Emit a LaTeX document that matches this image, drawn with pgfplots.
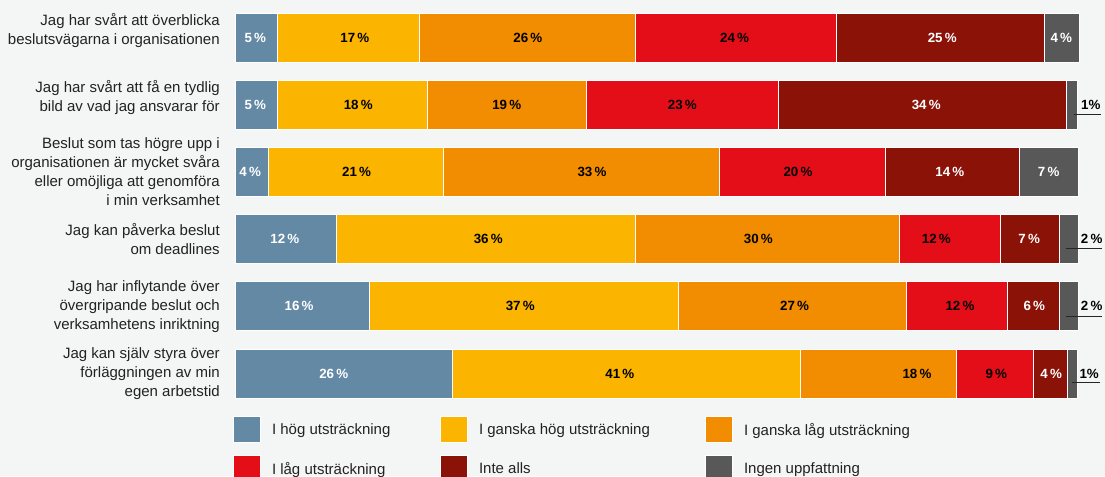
\documentclass[border=0pt]{standalone}
\usepackage{fontspec}
\setmainfont{Liberation Sans}
\usepackage{pgfplots}
\usepackage{pgfplotstable}
\pgfplotsset{compat=1.18}

\definecolor{bgcol}{HTML}{F4F6F5}
\definecolor{cblue}{HTML}{6489A5}
\definecolor{cyellow}{HTML}{FBB500}
\definecolor{corange}{HTML}{F28C00}
\definecolor{cred}{HTML}{E30E18}
\definecolor{cdark}{HTML}{8A1207}
\definecolor{cgray}{HTML}{575857}
\definecolor{labcol}{HTML}{222222}

% segment widths (percent of full bar), read from the picture
\pgfplotstableread{
y c1 c2 c3 c4 c5 c6
5 4.98 16.86 25.64 23.73 24.68 4.11
4 4.98 17.86 18.76 22.78 34.17 1.30
3 3.97 20.79 32.67 19.70 15.83 6.98
2 11.97 35.50 31.28 11.93 6.98 2.29
1 15.88 36.65 27.06 11.99 6.13 2.24
0 25.79 41.23 18.46 9.09 4.04 1.23
}\bars

\pgfplotstableread{
x y lab
2.4 5 5
83.8 5 25
97.9 5 4
2.4 4 5
81.9 4 34
1.8 3 4
84.7 3 14
96.4 3 7
5.9 2 12
94.1 2 7
7.6 1 16
94.7 1 6
11.7 0 26
96.7 0 4
}\whitelabs

\pgfplotstableread{
x y lab
14.2 5 17
34.7 5 26
59.2 5 24
14.6 4 18
32.2 4 19
53.0 4 23
14.4 3 21
42.3 3 33
66.7 3 20
30.0 2 36
62.0 2 30
83.1 2 12
33.8 1 37
66.3 1 27
85.9 1 12
45.6 0 41
80.8 0 18
90.2 0 9
}\blacklabs

\pgfplotstableread{
x y lab
101.4 4 1
101.2 0 1
}\outone

\pgfplotstableread{
x y lab
101.5 2 2
101.5 1 2
}\outtwo

\pgfplotsset{
  base/.style={
    width=633pt, height=302.4pt, scale only axis,
    xmin=0, xmax=100, ymin=-0.5, ymax=5.5,
    clip=false,
    axis line style={draw=none},
    tick style={draw=none},
    xtick=\empty,
    at={(176.25pt,-2.925pt)}, anchor=north west,
  },
  legsq/.style={legend image code/.code={\fill[##1] (0pt,-9.25pt) rectangle (20.25pt,10.25pt);}},
  pctlab/.style={draw=none, mark=none, nodes near coords={\pgfplotspointmeta\,\%},
    point meta=explicit symbolic,
    every node near coord/.append style={anchor=center, inner sep=0pt, font=\fontsize{10}{12}\selectfont\bfseries, text=#1}},
}

\begin{document}
\begin{tikzpicture}
\fill[bgcol] (0,0) rectangle (828.75pt,-357pt);
\useasboundingbox (0,0) rectangle (828.75pt,-357pt);
\clip (0,0) rectangle (828.75pt,-357pt);

\begin{axis}[base,
  xbar stacked, bar width=36.75pt,
  ytick={0,...,5},
  yticklabels={
    {Jag kan själv styra över\\förläggningen av min\\egen arbetstid},
    {Jag har inflytande över\\övergripande beslut och\\verksamhetens inriktning},
    {Jag kan påverka beslut\\om deadlines},
    {Beslut som tas högre upp i\\organisationen är mycket svåra\\eller omöjliga att genomföra\\i min verksamhet},
    {Jag har svårt att få en tydlig\\bild av vad jag ansvarar för\\[-1.25pt]\mbox{}},
    {Jag har svårt att överblicka\\beslutsvägarna i organisationen\\[-1.25pt]\mbox{}}},
  yticklabel style={align=right, inner sep=0pt, xshift=-11.25pt,
    font=\fontsize{11.25}{14.25}\selectfont, text=labcol},
  legend columns=3,
  legend cell align=left,
  legend style={at={(axis description cs:-0.00237,-0.0221)}, anchor=north west,
    draw=none, fill=none, inner sep=0pt, outer sep=0pt, row sep=9pt,
    nodes={inner sep=0pt, font=\fontsize{11.25}{14}\selectfont, text=labcol},
    /tikz/every odd column/.append style={column sep=8.25pt}},
]
\addplot+[legsq, fill=cblue, draw=white, line width=0.75pt] table[x=c1, y=y] {\bars};
\addplot+[legsq, fill=cyellow, draw=white, line width=0.75pt] table[x=c2, y=y] {\bars};
\addplot+[legsq, fill=corange, draw=white, line width=0.75pt] table[x=c3, y=y] {\bars};
\addplot+[legsq, fill=cred, draw=white, line width=0.75pt] table[x=c4, y=y] {\bars};
\addplot+[legsq, fill=cdark, draw=white, line width=0.75pt] table[x=c5, y=y] {\bars};
\addplot+[legsq, fill=cgray, draw=white, line width=0.75pt] table[x=c6, y=y] {\bars};
\legend{\makebox[126pt][l]{I hög utsträckning},
        \makebox[169.5pt][l]{I ganska hög utsträckning},
        \makebox[100pt][l]{I ganska låg utsträckning},
        \makebox[126pt][l]{I låg utsträckning},
        \makebox[169.5pt][l]{Inte alls},
        \makebox[100pt][l]{Ingen uppfattning}}
\end{axis}

\begin{axis}[base, ytick=\empty]
\addplot[pctlab=white] table[x=x, y=y, meta=lab] {\whitelabs};
\addplot[pctlab=black] table[x=x, y=y, meta=lab] {\blacklabs};
\addplot[draw=none, mark=none, nodes near coords={\pgfplotspointmeta\%},
  point meta=explicit symbolic,
  every node near coord/.append style={anchor=center, inner sep=0pt, font=\fontsize{10}{12}\selectfont\bfseries, text=black}]
  table[x=x, y=y, meta=lab] {\outone};
\addplot[pctlab=black] table[x=x, y=y, meta=lab] {\outtwo};
\draw[black!85, line width=0.75pt] (axis cs:99.4,3.86) -- (axis cs:102.55,3.86);
\draw[black!85, line width=0.75pt] (axis cs:98.4,1.86) -- (axis cs:102.7,1.86);
\draw[black!85, line width=0.75pt] (axis cs:98.4,0.85) -- (axis cs:102.7,0.85);
\draw[black!85, line width=0.75pt] (axis cs:99.2,-0.14) -- (axis cs:102.5,-0.14);
\end{axis}
\end{tikzpicture}
\end{document}
